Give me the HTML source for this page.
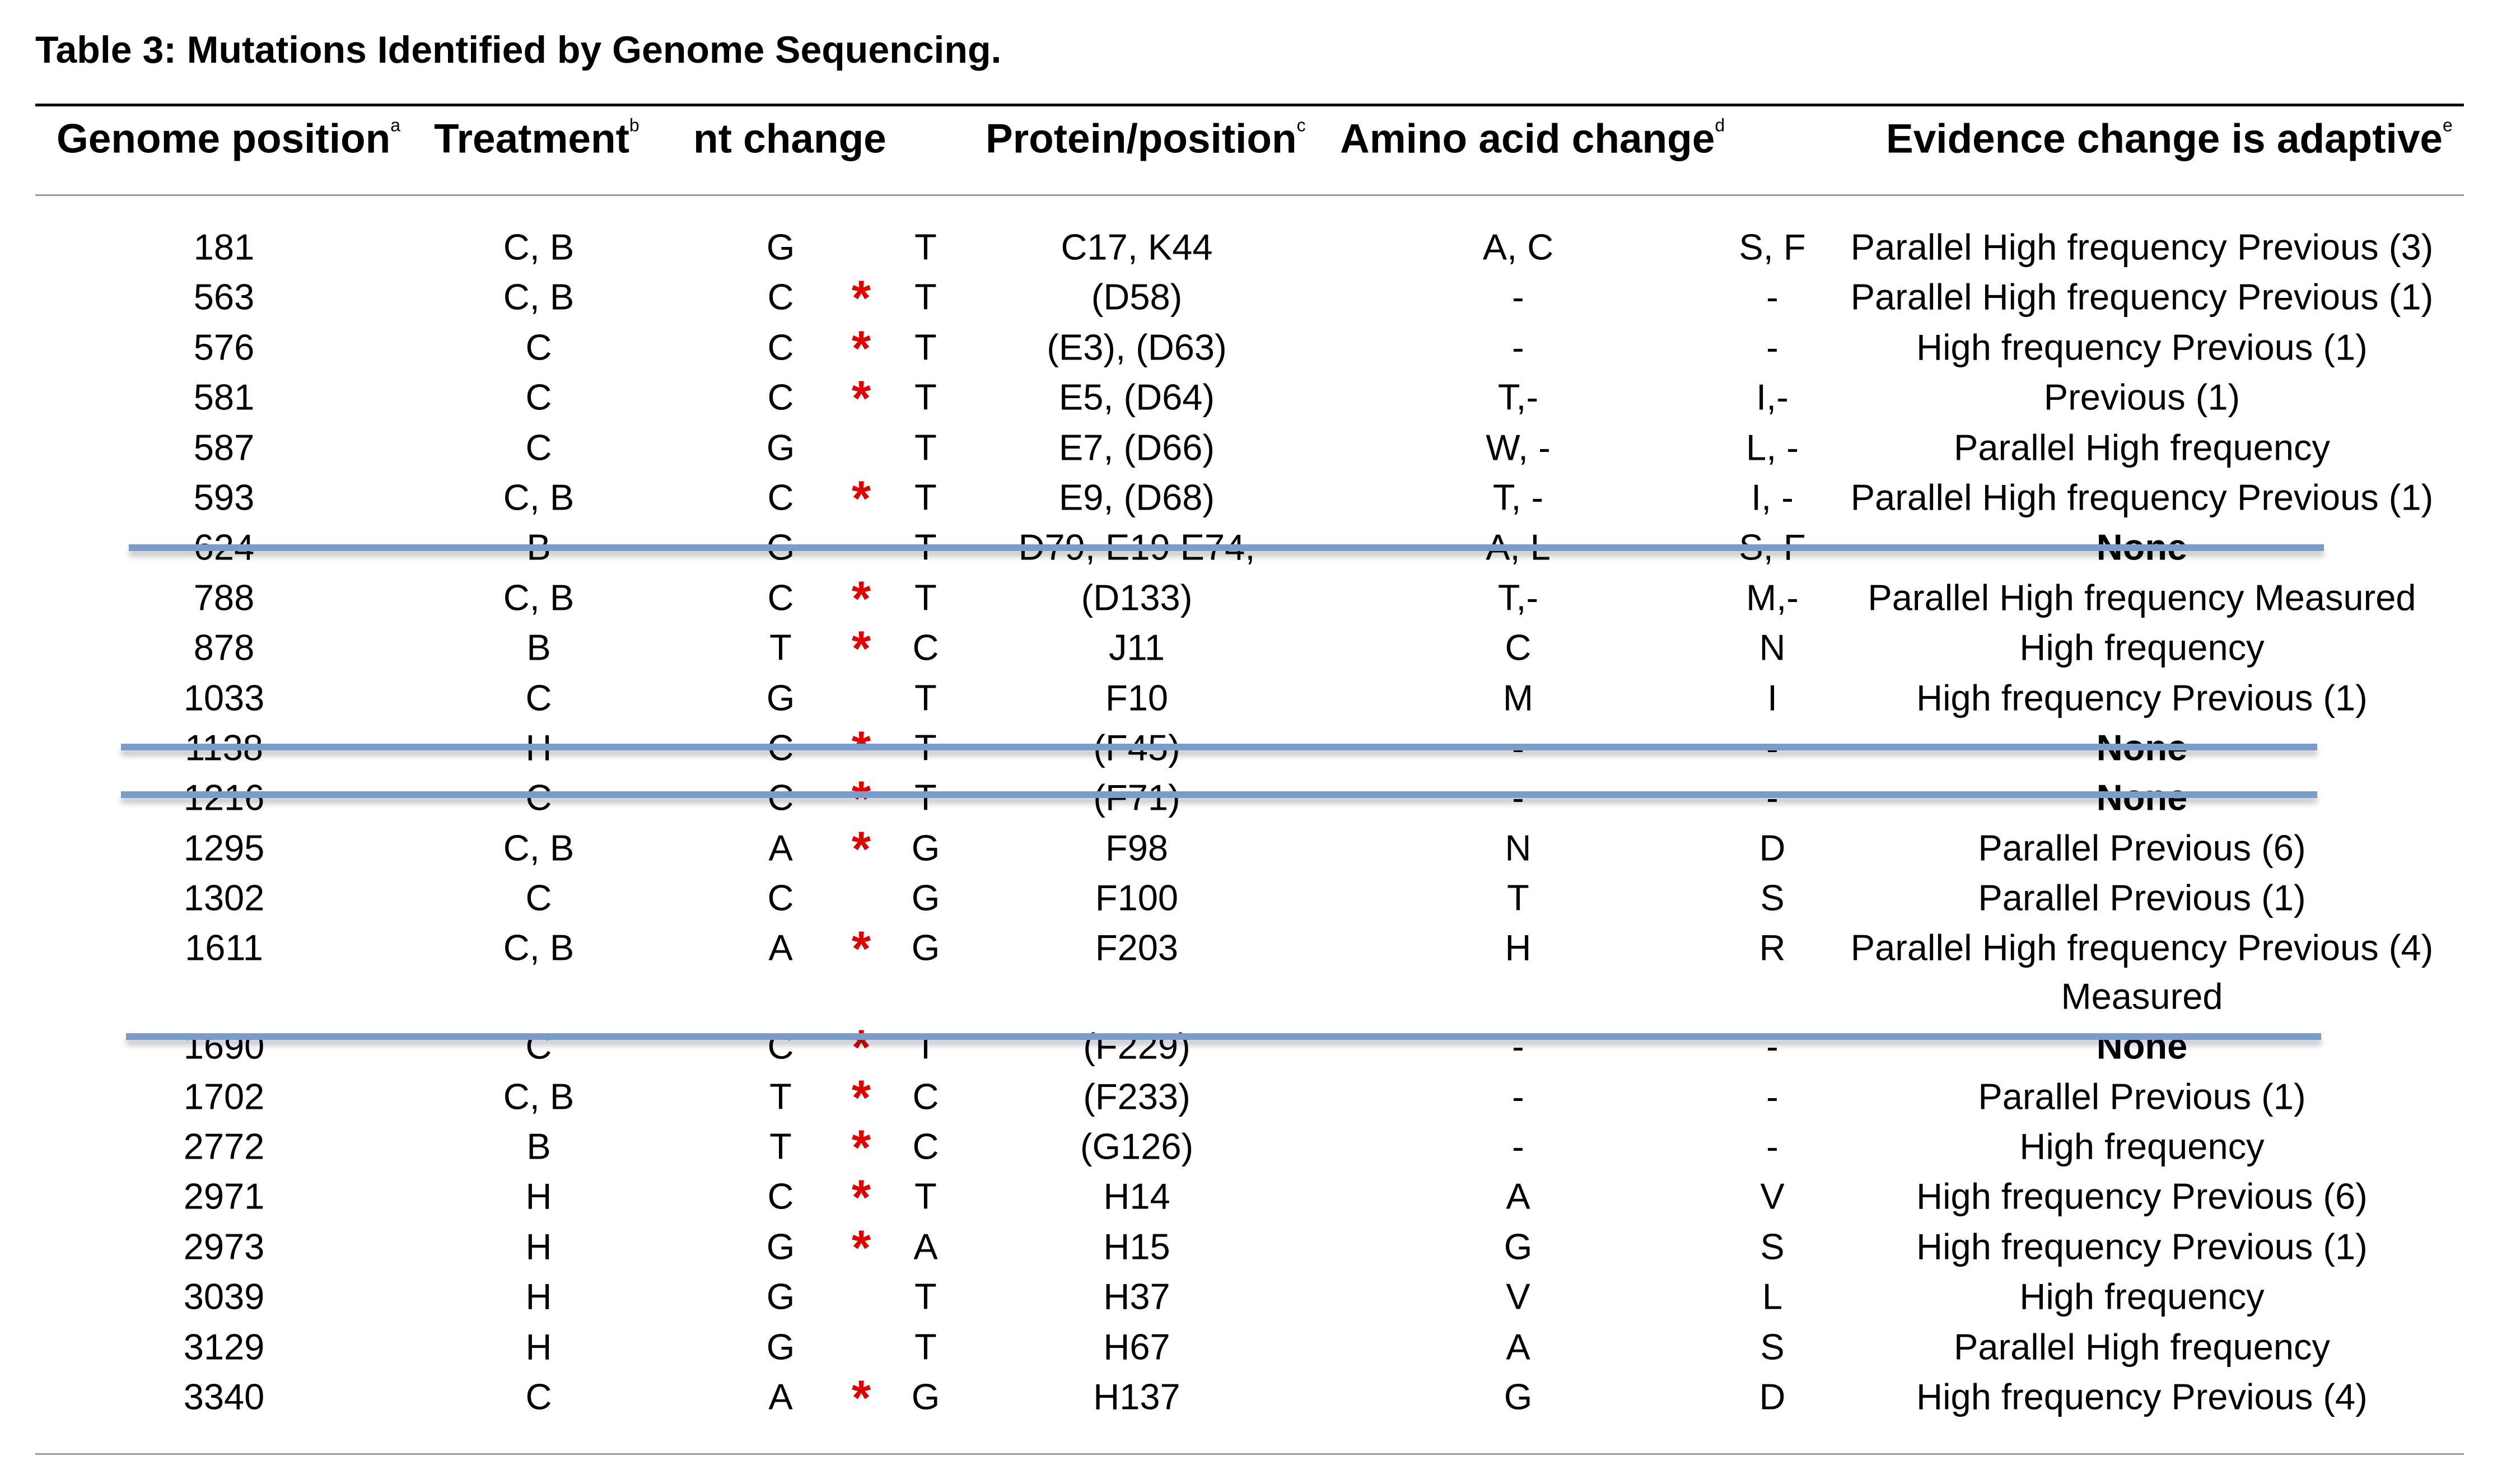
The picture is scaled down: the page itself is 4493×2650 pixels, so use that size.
<!DOCTYPE html>
<html><head><meta charset="utf-8">
<style>
html,body{margin:0;padding:0;background:#fff;}
body{width:4493px;height:2650px;position:relative;overflow:hidden;font-family:"Liberation Sans",sans-serif;color:#000;}
.t{position:absolute;left:63px;top:89px;transform:translateY(-50%);font-weight:bold;font-size:68px;white-space:nowrap;line-height:1;}
.h{position:absolute;top:248px;transform:translateY(-50%);font-weight:bold;font-size:73px;white-space:nowrap;line-height:1;}
.h sup{font-size:32px;font-weight:normal;vertical-align:top;position:relative;top:-4px;}
.rule{position:absolute;left:63px;width:4360px;}
.r{position:absolute;left:0;width:100%;height:0;}
.r span{position:absolute;top:0;transform:translate(-50%,-50%);white-space:nowrap;font-size:65px;line-height:1;}
.c1{left:400px}.c2{left:962px}.c3{left:1394px}.c5{left:1653px}.c6{left:2030px}.c7{left:2711px}.c8{left:3165px}.c9{left:3825px}
.r span.c4{left:1538px;color:#e00000;font-size:88px;font-weight:bold;transform:translate(-50%,-48%);}
.b{font-weight:bold}
.s{position:absolute;height:12px;background:#7b9bcb;box-shadow:0 10px 10px rgba(0,0,0,0.22);}
</style></head><body>
<div class="t">Table 3: Mutations Identified by Genome Sequencing.</div>
<div class="rule" style="top:185px;height:5px;background:#000;width:4337px"></div>
<div class="h" style="left:101px">Genome position<sup>a</sup></div>
<div class="h" style="left:775px">Treatment<sup>b</sup></div>
<div class="h" style="left:1238px">nt change</div>
<div class="h" style="left:1760px">Protein/position<sup>c</sup></div>
<div class="h" style="left:2393px">Amino acid change<sup>d</sup></div>
<div class="h" style="left:3368px">Evidence change is adaptive<sup>e</sup></div>
<div class="rule" style="top:347px;height:3px;background:#999;width:4337px"></div>

<div class="r" style="top:441px"><span class="c1">181</span><span class="c2">C, B</span><span class="c3">G</span><span class="c5">T</span><span class="c6">C17, K44</span><span class="c7">A, C</span><span class="c8">S, F</span><span class="c9">Parallel High frequency Previous (3)</span></div>
<div class="r" style="top:530px"><span class="c1">563</span><span class="c2">C, B</span><span class="c3">C</span><span class="c4">*</span><span class="c5">T</span><span class="c6">(D58)</span><span class="c7">-</span><span class="c8">-</span><span class="c9">Parallel High frequency Previous (1)</span></div>
<div class="r" style="top:620px"><span class="c1">576</span><span class="c2">C</span><span class="c3">C</span><span class="c4">*</span><span class="c5">T</span><span class="c6">(E3), (D63)</span><span class="c7">-</span><span class="c8">-</span><span class="c9">High frequency Previous (1)</span></div>
<div class="r" style="top:709px"><span class="c1">581</span><span class="c2">C</span><span class="c3">C</span><span class="c4">*</span><span class="c5">T</span><span class="c6">E5, (D64)</span><span class="c7">T,-</span><span class="c8">I,-</span><span class="c9">Previous (1)</span></div>
<div class="r" style="top:799px"><span class="c1">587</span><span class="c2">C</span><span class="c3">G</span><span class="c5">T</span><span class="c6">E7, (D66)</span><span class="c7">W, -</span><span class="c8">L, -</span><span class="c9">Parallel High frequency</span></div>
<div class="r" style="top:888px"><span class="c1">593</span><span class="c2">C, B</span><span class="c3">C</span><span class="c4">*</span><span class="c5">T</span><span class="c6">E9, (D68)</span><span class="c7">T, -</span><span class="c8">I, -</span><span class="c9">Parallel High frequency Previous (1)</span></div>
<div class="r" style="top:977px"><span class="c1">624</span><span class="c2">B</span><span class="c3">G</span><span class="c5">T</span><span class="c6">D79, E19 E74,</span><span class="c7">A, L</span><span class="c8">S, F</span><span class="c9 b">None</span></div>
<div class="r" style="top:1067px"><span class="c1">788</span><span class="c2">C, B</span><span class="c3">C</span><span class="c4">*</span><span class="c5">T</span><span class="c6">(D133)</span><span class="c7">T,-</span><span class="c8">M,-</span><span class="c9">Parallel High frequency Measured</span></div>
<div class="r" style="top:1156px"><span class="c1">878</span><span class="c2">B</span><span class="c3">T</span><span class="c4">*</span><span class="c5">C</span><span class="c6">J11</span><span class="c7">C</span><span class="c8">N</span><span class="c9">High frequency</span></div>
<div class="r" style="top:1246px"><span class="c1">1033</span><span class="c2">C</span><span class="c3">G</span><span class="c5">T</span><span class="c6">F10</span><span class="c7">M</span><span class="c8">I</span><span class="c9">High frequency Previous (1)</span></div>
<div class="r" style="top:1335px"><span class="c1">1138</span><span class="c2">H</span><span class="c3">C</span><span class="c4">*</span><span class="c5">T</span><span class="c6">(F45)</span><span class="c7">-</span><span class="c8">-</span><span class="c9 b">None</span></div>
<div class="r" style="top:1424px"><span class="c1">1216</span><span class="c2">C</span><span class="c3">C</span><span class="c4">*</span><span class="c5">T</span><span class="c6">(F71)</span><span class="c7">-</span><span class="c8">-</span><span class="c9 b">None</span></div>
<div class="r" style="top:1514px"><span class="c1">1295</span><span class="c2">C, B</span><span class="c3">A</span><span class="c4">*</span><span class="c5">G</span><span class="c6">F98</span><span class="c7">N</span><span class="c8">D</span><span class="c9">Parallel Previous (6)</span></div>
<div class="r" style="top:1603px"><span class="c1">1302</span><span class="c2">C</span><span class="c3">C</span><span class="c5">G</span><span class="c6">F100</span><span class="c7">T</span><span class="c8">S</span><span class="c9">Parallel Previous (1)</span></div>
<div class="r" style="top:1692px"><span class="c1">1611</span><span class="c2">C, B</span><span class="c3">A</span><span class="c4">*</span><span class="c5">G</span><span class="c6">F203</span><span class="c7">H</span><span class="c8">R</span><span class="c9">Parallel High frequency Previous (4)</span></div>
<div class="r" style="top:1779px"><span class="c9">Measured</span></div>
<div class="r" style="top:1868px"><span class="c1">1690</span><span class="c2">C</span><span class="c3">C</span><span class="c4">*</span><span class="c5">T</span><span class="c6">(F229)</span><span class="c7">-</span><span class="c8">-</span><span class="c9 b">None</span></div>
<div class="r" style="top:1958px"><span class="c1">1702</span><span class="c2">C, B</span><span class="c3">T</span><span class="c4">*</span><span class="c5">C</span><span class="c6">(F233)</span><span class="c7">-</span><span class="c8">-</span><span class="c9">Parallel Previous (1)</span></div>
<div class="r" style="top:2047px"><span class="c1">2772</span><span class="c2">B</span><span class="c3">T</span><span class="c4">*</span><span class="c5">C</span><span class="c6">(G126)</span><span class="c7">-</span><span class="c8">-</span><span class="c9">High frequency</span></div>
<div class="r" style="top:2136px"><span class="c1">2971</span><span class="c2">H</span><span class="c3">C</span><span class="c4">*</span><span class="c5">T</span><span class="c6">H14</span><span class="c7">A</span><span class="c8">V</span><span class="c9">High frequency Previous (6)</span></div>
<div class="r" style="top:2226px"><span class="c1">2973</span><span class="c2">H</span><span class="c3">G</span><span class="c4">*</span><span class="c5">A</span><span class="c6">H15</span><span class="c7">G</span><span class="c8">S</span><span class="c9">High frequency Previous (1)</span></div>
<div class="r" style="top:2315px"><span class="c1">3039</span><span class="c2">H</span><span class="c3">G</span><span class="c5">T</span><span class="c6">H37</span><span class="c7">V</span><span class="c8">L</span><span class="c9">High frequency</span></div>
<div class="r" style="top:2405px"><span class="c1">3129</span><span class="c2">H</span><span class="c3">G</span><span class="c5">T</span><span class="c6">H67</span><span class="c7">A</span><span class="c8">S</span><span class="c9">Parallel High frequency</span></div>
<div class="r" style="top:2494px"><span class="c1">3340</span><span class="c2">C</span><span class="c3">A</span><span class="c4">*</span><span class="c5">G</span><span class="c6">H137</span><span class="c7">G</span><span class="c8">D</span><span class="c9">High frequency Previous (4)</span></div>

<div class="s" style="left:230px;width:3920px;top:972px"></div>
<div class="s" style="left:216px;width:3922px;top:1328px"></div>
<div class="s" style="left:216px;width:3922px;top:1413px"></div>
<div class="s" style="left:225px;width:3920px;top:1845px"></div>

<div class="rule" style="top:2595px;height:3px;background:#999;width:4337px"></div>
</body></html>
